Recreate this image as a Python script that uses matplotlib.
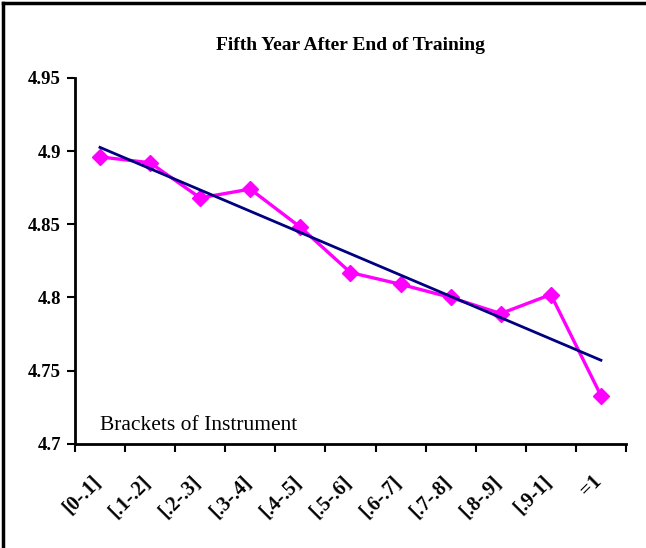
import matplotlib
matplotlib.use("Agg")
import matplotlib.pyplot as plt
import matplotlib.transforms as mtransforms
import numpy as np
from matplotlib.lines import Line2D

categories = ["[0-.1]", "[.1-.2]", "[.2-.3]", "[.3-.4]", "[.4-.5]", "[.5-.6]",
              "[.6-.7]", "[.7-.8]", "[.8-.9]", "[.9-1]", "=1"]
values = [4.896, 4.892, 4.868, 4.874, 4.848, 4.817, 4.809, 4.800, 4.789, 4.802, 4.733]
yticks = [4.7, 4.75, 4.8, 4.85, 4.9, 4.95]
ytick_labels = ["4.7", "4.75", "4.8", "4.85", "4.9", "4.95"]

plt.rcParams['font.family'] = ['Liberation Serif', 'DejaVu Serif']

fig = plt.figure(figsize=(6.46, 5.48), dpi=100)
ax = fig.add_axes([0.116, 0.19, 0.853, 0.668])

x = np.arange(len(categories))
coef = np.polyfit(x, values, 1)
trend = np.polyval(coef, x)

ax.plot(x, values, color='#FF00FF', lw=2.4, marker='D', markersize=8.5,
        markeredgecolor='#FF00FF', zorder=3)
ax.plot([x[0], x[-1]], [trend[0], trend[-1]], color='#000080', lw=2.0, zorder=4)

ax.set_xlim(-0.5, len(categories) - 0.5)
ax.set_ylim(4.7, 4.95)
ax.set_yticks(yticks)
ax.set_yticklabels(ytick_labels, fontsize=13.5, fontweight='bold')
ax.set_xticks(np.arange(-0.5, len(categories)))
ax.set_xticklabels([])
ax.set_xticks(x, minor=True)
ax.set_xticklabels(categories, minor=True, rotation=45, ha='right',
                   rotation_mode='anchor', fontsize=14.5, fontweight='bold')
ax.tick_params(axis='x', which='minor', length=0, pad=20)
ax.tick_params(axis='x', which='major', length=6, width=1.5, direction='out')
ax.tick_params(axis='y', length=6, width=1.5, direction='out', pad=4)

offset = mtransforms.ScaledTranslation(-9 / 100, 0, fig.dpi_scale_trans)
for lab in ax.get_xticklabels(minor=True):
    lab.set_transform(lab.get_transform() + offset)

for s in ['top', 'right']:
    ax.spines[s].set_visible(False)
for s in ['left', 'bottom']:
    ax.spines[s].set_linewidth(2)

ax.set_title("Fifth Year After End of Training", fontsize=14, fontweight='bold', pad=20)
ax.text(0.045, 0.025, "Brackets of Instrument", transform=ax.transAxes,
        fontsize=15.5, ha='left', va='bottom')

# figure frame (top and left edges visible)
fig.add_artist(Line2D([0.005, 0.005], [0, 0.995], transform=fig.transFigure, color='black', lw=2.5))
fig.add_artist(Line2D([0.005, 1.0], [0.995, 0.995], transform=fig.transFigure, color='black', lw=2.5))

fig.savefig("out.png", dpi=100)
